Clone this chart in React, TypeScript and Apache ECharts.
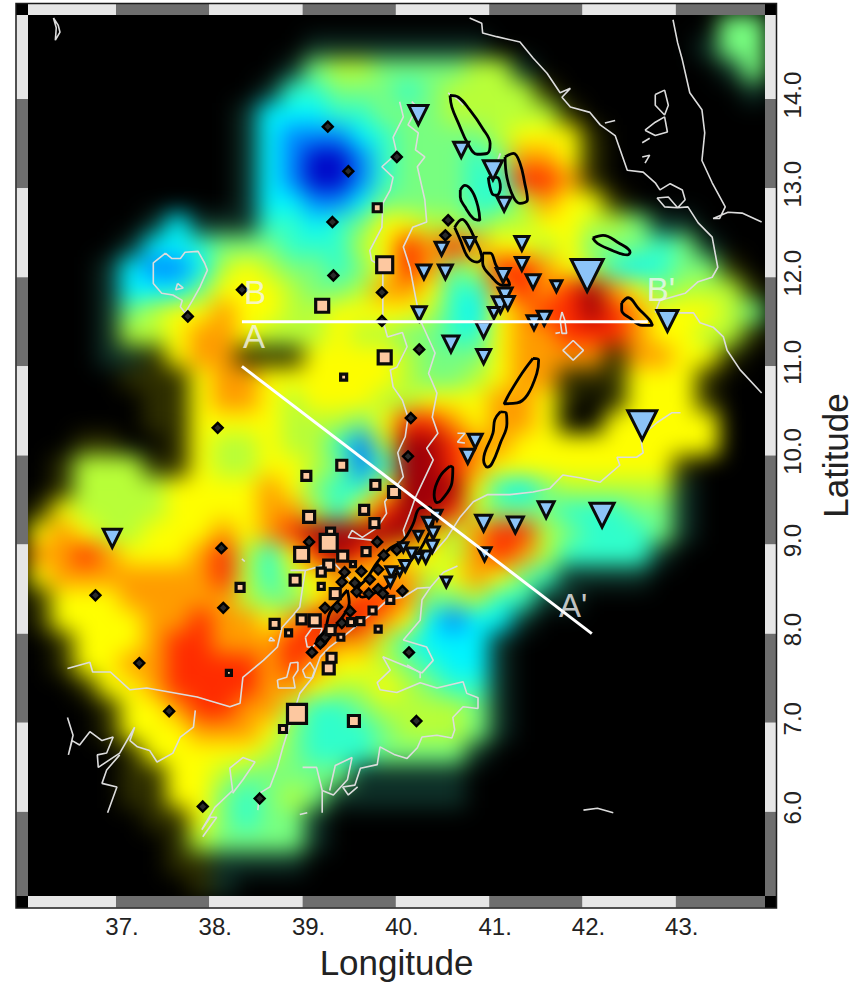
import React, { useEffect, useRef } from "react";
import * as echarts from "echarts";

// ---- axes
const lonRange = [36.057, 43.956];
const latRange = [5.056, 14.943];
const lonTicks = [37, 38, 39, 40, 41, 42, 43];
const latTicks = [6, 7, 8, 9, 10, 11, 12, 13, 14];

// ---- anomaly field, read cell by cell (0 no data, -1 dim olive, -2 dim teal, 1 low ... 10 high)
const fieldRows: number[][] = [
  [0,0,0,0,0,0,0,0,0,0,0,0,0,0,0,0,0,0,0,0,0,0,0,0,0,0,0,0,0,0,5,5],
  [0,0,0,0,0,0,0,0,0,0,0,0,-2,-2,-2,-2,-2,-2,-2,-2,0,0,0,0,0,0,0,0,0,-2,5,5],
  [0,0,0,0,0,0,0,0,0,0,0,-2,5,6,6,5,5,5,5,6,6,-2,0,0,0,0,0,0,0,0,-2,5],
  [0,0,0,0,0,0,0,0,0,0,-2,4,4,5,5,5,4,5,6,6,6,6,-1,0,0,0,0,0,0,0,0,-2],
  [0,0,0,0,0,0,0,0,0,-2,3,3,3,4,4,5,5,5,6,6,6,6,6,-1],
  [0,0,0,0,0,0,0,0,0,-2,3,2,2,2,3,4,5,5,5,5,6,7,7,7,-1],
  [0,0,0,0,0,0,0,0,0,-2,3,2,1,1,2,4,5,5,5,4,5,8,8,7,-1],
  [0,0,0,0,0,0,0,0,0,-2,3,2,1,1,2,4,5,5,5,4,4,9,9,8,-1],
  [0,0,0,0,0,0,0,0,0,-2,3,3,2,2,3,5,5,5,5,4,4,6,8,7,7,-1],
  [0,0,0,0,0,-2,3,-2,-2,-2,4,4,3,4,5,7,7,6,6,5,6,6,7,7,6,6,5,-2,-2],
  [0,0,0,0,-2,3,3,4,5,5,5,4,4,4,6,7,9,8,9,8,7,7,6,7,5,5,5,4,5,-2],
  [0,0,0,-2,3,2,2,3,6,7,6,5,5,4,5,7,9,8,5,6,9,9,8,7,6,4,3,4,5,5,-1],
  [0,0,0,-2,3,3,3,5,7,7,7,6,5,5,6,8,8,7,4,4,8,9,8,9,10,8,7,5,6,6,6,-1],
  [0,0,0,-2,5,6,7,7,8,7,7,6,6,7,7,7,7,6,4,3,7,8,9,9,10,9,8,7,7,7,6,5],
  [0,0,0,-2,6,6,7,8,8,7,6,6,6,7,6,6,5,5,4,4,7,8,8,9,9,9,8,7,7,6,6,-1],
  [0,0,0,-2,-2,-1,7,8,8,-1,-1,-1,7,7,7,7,6,5,5,5,7,8,8,8,8,-1,8,8,7,7,-1],
  [0,0,0,0,-1,-1,-1,7,8,8,7,7,7,7,7,7,6,5,5,6,7,8,8,-1,-1,-1,7,7,7,-1],
  [0,0,0,0,0,-1,-1,7,8,8,7,6,7,7,7,6,6,7,7,7,8,8,7,-1,0,-1,7,7,7,-1],
  [0,0,0,0,0,-1,-1,7,7,7,7,6,6,6,5,7,9,9,8,7,8,8,7,0,0,7,7,7,7,7],
  [0,0,-1,-1,0,0,-1,7,6,6,7,6,6,4,2,6,10,10,9,8,8,7,7,7,7,7,7,7,7,7],
  [0,-1,6,6,6,-1,-1,7,6,6,7,7,6,5,2,4,10,10,9,8,7,7,7,7,7,7,7,7,-1],
  [0,-1,6,6,6,6,7,7,7,7,8,7,5,4,4,7,10,10,10,7,4,3,5,6,6,6,6,6,-2],
  [-1,7,6,6,6,6,7,7,7,7,8,8,6,4,7,9,10,10,9,6,5,5,5,4,4,4,5,5,-2],
  [7,8,7,6,6,7,7,7,8,7,8,9,10,10,10,10,10,8,6,8,9,9,6,5,4,4,4,5,-2],
  [8,8,9,8,7,7,7,8,9,6,4,7,9,10,9,8,7,7,6,8,9,8,6,4,4,4,4,-2],
  [7,8,8,8,8,8,8,8,9,6,4,6,7,8,7,8,8,6,7,8,7,5,4,-2,-2,-2,-2],
  [-1,7,7,7,8,8,8,8,8,6,5,5,7,8,9,9,8,5,5,6,4,4,-2,-2],
  [-1,7,7,7,7,8,8,9,8,8,7,8,9,10,9,8,7,3,2,3,3,-2],
  [0,-1,7,7,7,8,9,9,8,8,8,9,9,8,8,6,4,3,3,3,-2],
  [0,-1,7,7,8,8,9,9,9,9,8,9,8,7,7,6,5,4,3,3,-2],
  [0,0,-1,7,7,8,9,9,9,9,8,8,7,6,6,7,6,5,4,4,-2],
  [0,0,0,-1,7,7,8,9,9,8,8,6,4,4,5,6,6,6,6,5,-2],
  [0,0,0,-1,7,7,7,8,8,8,7,5,4,4,4,5,6,6,6,5,-2],
  [0,0,0,0,-1,7,7,7,7,7,6,5,4,4,4,5,5,5,5,-2],
  [0,0,0,0,-1,-1,7,7,6,5,5,5,5,5,-2,-2,-2,-2,-2],
  [0,0,0,0,-1,-1,7,7,5,4,5,6,5,-2,-2,-2,-2,-2,-2],
  [0,0,0,0,0,-1,-1,7,5,4,5,5,-2],
  [0,0,0,0,0,0,-1,6,5,5,5,5,-2],
  [0,0,0,0,0,0,-1,-1,-2,-2,-2,-2],
  [0,0,0,0,0,0,0,-1,-2],
];
const fieldLevels = [-2, -1, 0, 1, 2, 3, 4, 5, 6, 7, 8, 9, 10];
const fieldColors = ["#0e3028", "#2e2e00", "#000000", "#0008c8", "#0088ff", "#00f4ff", "#30ffcc", "#78ff80", "#b8ff38", "#ffff00", "#ff9c00", "#ff2c00", "#a00008"];

// ---- markers: [lon, lat, size]
const stations: number[][] = [
  [40.24,13.82,20],[40.70,13.43,16],[41.04,13.20,20],[41.16,12.82,15],[40.49,12.32,14],[41.35,12.38,15],[40.30,12.06,15],[40.53,12.06,15],
  [41.35,12.15,14],[40.79,12.38,13],[41.15,12.02,15],[41.47,11.95,15],[41.72,11.90,12],[42.05,12.02,33],[41.17,11.80,15],[41.12,11.69,17],
  [41.20,11.71,14],[41.05,11.60,12],[40.25,11.59,15],[40.94,11.41,17],[41.48,11.49,15],[41.59,11.54,15],[40.59,11.25,17],[40.94,11.11,15],
  [40.85,10.16,15],[40.77,9.99,15],[40.94,9.24,17],[41.28,9.22,17],[41.61,9.39,17],[42.21,9.33,25],[40.95,8.89,14],[40.54,8.58,11],
  [42.64,10.34,30],[42.91,11.51,22],[36.96,9.07,19],[40.44,9.33,11],[40.35,9.24,13],[40.40,9.13,13],[40.39,8.98,13],[40.32,8.86,13],
  [40.24,8.85,10],[40.17,8.90,12],[40.08,8.97,10],[40.24,9.10,10],[40.10,8.76,12],[39.95,8.69,12],[39.94,8.58,11],[40.04,8.69,9],
];
const events: number[][] = [
  [39.80,12.78,10],[39.88,12.14,18],[39.21,11.68,15],[39.88,11.10,15],[39.44,10.88,8],[39.42,9.89,12],[39.04,9.77,11],[39.78,9.67,11],
  [39.98,9.59,13],[39.07,9.31,13],[39.66,9.39,11],[39.77,9.24,11],[39.30,9.14,10],[39.28,9.02,19],[38.99,8.89,16],[39.43,8.87,12],
  [39.68,8.92,10],[39.28,8.77,12],[39.20,8.69,10],[39.54,8.78,7],[38.92,8.60,12],[39.20,8.53,8],[38.33,8.52,10],[39.35,8.45,12],
  [39.94,8.38,9],[38.70,8.11,11],[38.99,8.16,11],[39.13,8.15,13],[38.85,8.01,8],[39.30,8.04,11],[39.52,8.13,9],[39.62,8.14,9],
  [39.41,7.96,8],[39.75,8.26,9],[39.81,8.05,8],[39.31,7.73,11],[39.28,7.61,13],[38.21,7.56,7],[38.94,7.10,21],[38.79,6.93,9],[39.55,7.02,13],
];
const smallEvents: number[][] = [
  [39.27,13.69],[40.01,13.35],[39.49,13.19],[39.32,12.62],[39.33,12.02],[40.56,12.64],[40.53,12.47],[39.85,11.83],[39.85,11.51],[40.25,11.19],
  [40.16,10.42],[40.13,9.99],[38.35,11.86],[37.77,11.56],[38.09,10.31],[38.13,8.96],[36.78,8.43],[38.15,8.29],[37.25,7.67],[37.57,7.13],
  [37.93,6.06],[38.54,6.15],[40.22,7.02],[40.14,7.79],[39.10,7.79],[39.07,9.03],[39.45,8.69],[39.63,8.70],[39.80,9.03],[39.87,8.88],
  [39.42,8.58],[39.56,8.57],[39.58,8.47],[39.72,8.61],[39.81,8.72],[39.71,8.45],[39.81,8.50],[39.86,8.45],[40.07,8.48],[39.24,8.29],
  [39.37,8.30],[39.51,8.25],[39.42,8.12],[39.24,7.96],[39.19,7.89],[40.01,8.94],
];

// ---- profiles
const profileA = [[38.35,11.0],[42.1,8.0]];
const profileB = [[38.35,11.5],[42.7,11.5]];
const profileLabels: [number, number, string][] = [[38.49,11.83,"B"],[38.48,11.34,"A"],[41.90,8.32,"A'"],[42.84,11.86,"B'"]];

// ---- magmatic segments (closed outlines)
const segments: number[][][] = [
  [[40.58,14.04],[40.67,14.02],[40.79,13.88],[40.93,13.67],[41.01,13.50],[40.98,13.39],[40.87,13.38],[40.77,13.50],[40.67,13.73],[40.60,13.91]],
  [[41.17,13.35],[41.26,13.39],[41.33,13.28],[41.38,13.06],[41.41,12.87],[41.33,12.83],[41.26,12.90],[41.19,13.12]],
  [[40.99,13.12],[41.08,13.12],[41.12,13.01],[41.08,12.92],[41.03,12.94]],
  [[40.69,12.98],[40.74,13.03],[40.82,12.96],[40.88,12.79],[40.90,12.64],[40.83,12.66],[40.74,12.79],[40.69,12.90]],
  [[40.63,12.56],[40.71,12.65],[40.77,12.59],[40.85,12.42],[40.92,12.22],[40.87,12.17],[40.77,12.23],[40.69,12.42]],
  [[40.93,12.27],[41.01,12.27],[41.08,12.12],[41.20,11.97],[41.22,11.91],[41.14,11.91],[41.03,12.00],[40.93,12.16]],
  [[42.11,12.44],[42.22,12.47],[42.38,12.39],[42.51,12.28],[42.48,12.25],[42.32,12.30],[42.16,12.38]],
  [[42.42,11.71],[42.49,11.77],[42.60,11.65],[42.72,11.52],[42.75,11.46],[42.64,11.46],[42.51,11.54],[42.42,11.63]],
  [[41.47,11.09],[41.53,11.07],[41.51,10.92],[41.41,10.68],[41.30,10.59],[41.16,10.58],[41.22,10.70],[41.35,10.92]],
  [[41.12,10.49],[41.18,10.48],[41.19,10.36],[41.12,10.14],[41.03,9.91],[40.98,9.87],[40.94,9.95],[41.04,10.25],[41.06,10.40]],
  [[40.58,9.88],[40.61,9.86],[40.60,9.69],[40.49,9.50],[40.44,9.47],[40.41,9.56],[40.47,9.76]],
  [[40.37,9.42],[40.26,9.41],[40.18,9.22],[40.08,9.05],[39.94,8.96],[39.80,8.80],[39.69,8.62],[39.59,8.49],[39.64,8.41],[39.75,8.45],[39.90,8.52],[40.01,8.68],[40.12,8.79],[40.23,8.90],[40.33,9.08],[40.40,9.27]],
  [[39.48,8.49],[39.50,8.34],[39.46,8.24],[39.37,8.10],[39.29,7.96],[39.19,7.85],[39.15,7.91],[39.24,8.04],[39.29,8.23],[39.40,8.39]],
];

// ---- coast, rivers and contours
const coastRedSea = [[40.79,14.91],[40.92,14.85],[40.93,14.74],[41.08,14.70],[41.33,14.64],[41.47,14.46],[41.62,14.29],[41.76,14.07],[41.87,14.12],[41.78,14.02],[41.87,13.91],[42.08,13.85],[42.19,13.71],[42.35,13.59],[42.48,13.20],[42.65,13.18],[42.78,13.06],[42.83,12.98],[42.94,13.05],[43.07,12.98],[43.10,12.87],[43.02,12.78],[42.88,12.79],[42.80,12.89],[42.92,12.90],[43.02,12.78],[43.13,12.79],[43.24,12.61],[43.39,12.45],[43.45,12.11],[43.39,12.00],[43.24,11.95],[43.10,11.82],[42.83,11.74],[42.78,11.61],[43.05,11.60],[43.19,11.60],[43.26,11.49],[43.40,11.44],[43.51,11.33],[43.55,11.18],[43.69,10.96],[43.92,10.70]];
const coastArabia = [[42.97,14.89],[43.02,14.63],[43.07,14.44],[43.15,14.07],[43.28,13.88],[43.31,13.62],[43.28,13.31],[43.39,13.06],[43.53,12.79],[43.47,12.66],[43.40,12.66],[43.56,12.73],[43.71,12.72],[43.92,12.62]];
const islandA = [[42.78,14.05],[42.88,14.10],[42.92,13.93],[42.88,13.82],[42.78,13.93],[42.78,14.05]];
const islandB = [[42.67,13.65],[42.78,13.74],[42.88,13.80],[42.91,13.63],[42.78,13.59],[42.67,13.65]];
const islandC = [[42.64,13.51],[42.72,13.56]];
const islandD = [[42.64,13.35],[42.72,13.37],[42.67,13.28]];
const islandE = [[42.24,13.73],[42.35,13.76]];
const islandF = [[36.33,14.91],[36.38,14.83],[36.40,14.75],[36.35,14.66],[36.36,14.80],[36.33,14.91]];
const lakeTana = [[37.53,12.27],[37.60,12.21],[37.69,12.21],[37.74,12.28],[37.88,12.29],[37.95,12.16],[37.98,12.08],[37.90,11.89],[37.82,11.74],[37.74,11.60],[37.69,11.67],[37.71,11.74],[37.61,11.80],[37.49,11.82],[37.40,11.93],[37.40,12.16],[37.53,12.27]];
const lakeTanaInner = [[37.66,11.93],[37.72,11.88],[37.64,11.86],[37.66,11.93]];
const scarpWest = [[40.04,13.97],[40.08,13.80],[39.97,13.57],[40.01,13.39],[39.85,13.24],[39.97,13.12],[39.94,12.98],[39.86,12.83],[39.85,12.56],[39.72,12.30],[39.74,12.19],[39.86,12.11],[39.86,11.89],[39.80,11.83],[39.86,11.78],[39.86,11.52],[39.91,11.33],[40.07,11.38],[40.12,11.22],[40.01,10.99],[39.94,10.96],[39.97,10.77],[40.07,10.62],[40.13,10.43],[40.10,10.21],[40.02,10.03],[40.08,9.76],[39.88,9.48],[39.90,9.35],[39.80,9.19],[39.64,9.08],[39.53,9.16],[39.49,9.08],[39.74,9.05]];
const scarpMid = [[40.17,13.97],[40.23,13.91],[40.13,13.71],[40.24,13.62],[40.21,13.43],[40.31,13.35],[40.23,13.24],[40.31,12.87],[40.33,12.62],[40.18,12.56],[40.08,12.34],[40.15,12.11],[40.21,11.78],[40.26,11.52],[40.42,11.15],[40.35,10.92],[40.44,10.70],[40.39,10.43],[40.45,10.25],[40.33,10.08],[40.40,9.95],[40.21,9.53],[40.15,9.35],[40.08,9.16],[40.10,9.07]];
const scarpEast = [[43.05,10.48],[42.96,10.48],[42.80,10.37],[42.62,10.21],[42.65,10.03],[42.58,9.98],[42.37,9.98],[42.40,9.89],[42.19,9.70],[41.97,9.75],[41.79,9.78],[41.65,9.63],[41.47,9.59],[41.22,9.56],[40.98,9.56],[40.83,9.48],[40.69,9.31],[40.55,9.08],[40.40,8.90]];
const riftSouth = [[40.66,8.76],[40.51,8.69],[40.37,8.52],[40.23,8.51],[40.08,8.41],[39.91,8.38],[39.80,8.27],[39.65,8.15],[39.43,7.96],[39.29,7.85],[39.19,7.74],[39.11,7.51],[38.97,7.33],[38.79,6.73],[38.73,6.50],[38.65,6.28],[38.54,6.21],[38.52,6.02]];
const riftBranch = [[40.37,8.52],[40.28,8.38],[40.26,8.15],[40.08,7.93],[40.33,7.85],[40.40,7.70],[40.28,7.56],[40.12,7.63],[39.86,7.74],[39.94,7.59],[39.80,7.45],[39.83,7.37],[40.01,7.34],[40.26,7.45],[40.44,7.39],[40.72,7.46],[40.76,7.33],[40.88,7.28],[40.88,7.16],[40.72,7.18],[40.61,7.06],[40.63,6.92],[40.60,6.83],[40.44,6.86],[40.28,6.84],[40.23,6.72],[40.12,6.60],[39.99,6.64],[39.83,6.73],[39.80,6.53],[39.62,6.49],[39.56,6.30],[39.43,6.28],[39.49,6.19],[39.59,6.28]];
const riftBar = [[40.12,7.65],[40.26,7.56],[40.26,7.50]];
const riverWest = [[36.48,7.61],[36.72,7.68],[36.75,7.57],[36.94,7.57],[37.15,7.37],[37.33,7.39],[37.87,7.29],[38.22,7.18],[38.33,7.22],[38.36,7.51],[38.58,7.70],[38.73,7.85],[38.78,8.07],[38.90,8.21],[38.97,8.30],[39.00,8.52],[39.03,8.71],[38.87,8.71],[39.03,8.71],[39.33,8.80],[39.51,8.60]];
const loopA = [[39.03,7.96],[39.10,8.06],[39.21,8.06],[39.17,7.93],[39.11,7.85],[39.05,7.85],[39.03,7.96]];
const loopB = [[38.73,7.48],[38.83,7.51],[38.87,7.67],[38.95,7.68],[38.95,7.59],[38.90,7.51],[38.92,7.39],[38.74,7.39],[38.73,7.48]];
const loopC = [[39.00,7.59],[39.08,7.68],[39.13,7.59],[39.10,7.50],[39.03,7.51],[39.00,7.59]];
const riverSW = [[36.48,7.06],[36.54,6.86],[36.49,6.64],[36.53,6.80],[36.61,6.75],[36.72,6.90],[36.85,6.80],[36.97,6.84],[36.90,6.66],[36.80,6.64],[36.81,6.50],[37.04,6.66],[37.20,6.95],[37.15,6.80],[37.23,6.73],[37.36,6.69],[37.44,6.56],[37.61,6.66],[37.69,6.84],[37.83,6.95],[37.85,7.14]];
const riverSWBranch = [[37.04,6.64],[36.90,6.47],[36.85,6.32],[37.01,6.28],[36.91,5.99]];
const southA = [[37.93,5.72],[38.08,5.94],[38.01,5.94],[37.92,5.80],[38.06,6.05],[38.25,6.24],[38.22,6.49],[38.36,6.61],[38.49,6.56],[38.36,6.36],[38.25,6.21]];
const southB = [[39.00,6.50],[39.15,6.50],[39.21,6.24],[39.21,5.99]];
const southC = [[39.21,6.24],[39.33,6.19],[39.48,6.36],[39.53,6.61],[39.35,6.52],[39.29,6.24]];
const southD = [[38.97,5.97],[39.05,5.99]];
const southE = [[42.01,6.02],[42.16,6.04],[42.33,5.99]];
const ringEast = [[41.90,11.29],[42.01,11.18],[41.90,11.07],[41.79,11.18],[41.90,11.29]];
const strandEast = [[41.78,11.61],[41.81,11.52],[41.83,11.37],[41.78,11.37],[41.76,11.52],[41.78,11.61]];
const strandEastB = [[41.71,11.37],[41.76,11.38]];
const spurNorth = [[40.56,14.07],[40.67,13.99],[40.72,13.93]];
const spurMid = [[41.12,13.39],[41.08,13.28]];
const spurLoop = [[40.66,10.25],[40.74,10.25],[40.66,10.15],[40.74,10.14]];
const spurWest = [[38.35,8.84],[38.38,8.81]];
const spurRing = [[38.66,7.96],[38.70,7.92],[38.64,7.92],[38.66,7.96]];
const contourLines = [coastRedSea, coastArabia, islandA, islandB, islandC, islandD, islandE, islandF, lakeTana, lakeTanaInner, scarpWest, scarpMid, scarpEast, riftSouth, riftBranch, riftBar, riverWest, loopA, loopB, loopC, riverSW, riverSWBranch, southA, southB, southC, southD, southE, ringEast, strandEast, strandEastB, spurNorth, spurMid, spurLoop, spurWest, spurRing];

const FONT = "'Liberation Sans', Arial, sans-serif";
const TEXT = "#222222";
const PLOT = { left: 28, top: 15, width: 737, height: 881 };
const BAR = 11.5;

function frameSegments() {
  const out: number[][] = [];
  const xs = [lonRange[0], ...lonTicks, lonRange[1]];
  const ys = [latRange[1], ...[...latTicks].reverse(), latRange[0]];
  for (let i = 0; i + 1 < xs.length; i++) {
    out.push([xs[i], latRange[1], xs[i + 1], i % 2, 0]);
    out.push([xs[i], latRange[0], xs[i + 1], i % 2, 1]);
  }
  for (let i = 0; i + 1 < ys.length; i++) {
    out.push([lonRange[0], ys[i], ys[i + 1], i % 2, 2]);
    out.push([lonRange[1], ys[i], ys[i + 1], i % 2, 3]);
  }
  return out;
}

export default function App() {
  const heatRef = useRef<HTMLDivElement>(null);
  const mainRef = useRef<HTMLDivElement>(null);

  useEffect(() => {
    const heat = echarts.init(heatRef.current!, undefined, { renderer: "svg" });
    const cols = Array.from({ length: 32 }, (_, i) => String(i));
    const rows = fieldRows.map((_, i) => String(i));
    const cells: number[][] = [];
    fieldRows.forEach((row, r) => row.forEach((v, c) => { if (v !== 0) cells.push([c, r, v]); }));
    heat.setOption({
      animation: false,
      backgroundColor: "transparent",
      grid: { left: 0, right: 0, top: 0, bottom: 0, outerBoundsMode: "none" },
      xAxis: { type: "category", data: cols, show: false },
      yAxis: { type: "category", data: rows, inverse: true, show: false },
      visualMap: {
        show: false, type: "piecewise", dimension: 2,
        pieces: fieldLevels.map((v, i) => ({ value: v, color: fieldColors[i] })),
      },
      series: [{ type: "heatmap", data: cells, itemStyle: { borderWidth: 0 }, silent: true }],
    });

    const main = echarts.init(mainRef.current!, undefined, { renderer: "svg" });
    const lineBase = { type: "line", showSymbol: false, symbol: "none", silent: true, clip: true };
    main.setOption({
      animation: false,
      backgroundColor: "transparent",
      textStyle: { fontFamily: FONT },
      grid: { ...PLOT, containLabel: false, outerBoundsMode: "none" },
      xAxis: {
        type: "value", min: lonRange[0], max: lonRange[1], splitLine: { show: false },
        axisLine: { show: false }, axisTick: { show: false },
        axisLabel: {
          customValues: lonTicks, formatter: (v: number) => `${v}.`, color: TEXT, fontSize: 24,
          fontFamily: FONT, margin: 18, padding: [0, 0, 0, 12],
        },
        name: "Longitude", nameLocation: "middle", nameGap: 49,
        nameTextStyle: { fontSize: 35, color: TEXT, fontFamily: FONT },
      },
      yAxis: {
        type: "value", position: "right", min: latRange[0], max: latRange[1], splitLine: { show: false },
        axisLine: { show: false }, axisTick: { show: false },
        axisLabel: {
          customValues: latTicks, formatter: (v: number) => v.toFixed(1), color: TEXT, fontSize: 24,
          fontFamily: FONT, rotate: 90, margin: 15, padding: [0, 0, 0, 8],
        },
        name: "Latitude", nameLocation: "middle", nameRotate: 90, nameGap: 53,
        nameTextStyle: { fontSize: 35, color: TEXT, fontFamily: FONT },
      },
      graphic: [
        { type: "rect", shape: { x: 16, y: 3.5, width: 12, height: 11.5 }, style: { fill: "#000" }, silent: true },
        { type: "rect", shape: { x: 765, y: 3.5, width: 11.5, height: 11.5 }, style: { fill: "#000" }, silent: true },
        { type: "rect", shape: { x: 16, y: 896, width: 12, height: 12 }, style: { fill: "#000" }, silent: true },
        { type: "rect", shape: { x: 765, y: 896, width: 11.5, height: 12 }, style: { fill: "#000" }, silent: true },
        { type: "rect", shape: { x: 16, y: 3.5, width: 760.5, height: 904.5 }, style: { fill: "none", stroke: "#1a1a1a", lineWidth: 1.5 }, silent: true, z: 100 },
      ],
      series: [
        ...contourLines.map((pts) => ({
          ...lineBase, data: pts, z: 3,
          lineStyle: { color: "#dcdcdc", width: 1.6 },
        })),
        ...segments.map((pts) => ({
          ...lineBase, data: [...pts, pts[0]], smooth: 0.4, z: 4,
          lineStyle: { color: "#000", width: 2.8 },
        })),
        {
          type: "scatter", data: smallEvents, symbol: "diamond", symbolSize: 10, z: 5, silent: true,
          itemStyle: { color: "#2a2a2a", borderColor: "#000", borderWidth: 2.4, opacity: 1 },
        },
        {
          type: "scatter", data: events, symbol: "rect", symbolSize: (v: number[]) => v[2] - 2, z: 6, silent: true,
          itemStyle: { color: "#fdc8a0", borderColor: "#0a0a0a", borderWidth: 3.2, opacity: 1 },
        },
        {
          type: "scatter", data: stations, symbol: "triangle", symbolRotate: 180, symbolSize: (v: number[]) => v[2] - 1, z: 6, silent: true,
          itemStyle: { color: "#8cc4f8", borderColor: "#0a0a0a", borderWidth: 3, opacity: 1 },
        },
        { ...lineBase, data: profileA, z: 7, lineStyle: { color: "#fff", width: 3 } },
        { ...lineBase, data: profileB, z: 7, lineStyle: { color: "#fff", width: 3 } },
        {
          type: "scatter", data: profileLabels, symbolSize: 1, z: 8, silent: true,
          itemStyle: { color: "rgba(0,0,0,0)" },
          label: {
            show: true, position: "inside", formatter: (p: any) => p.value[2],
            color: "#f4f4f4", fontSize: 33, fontFamily: FONT,
          },
        },
        {
          type: "custom", z: 9, silent: true, clip: false, data: frameSegments(),
          renderItem: (_: any, api: any) => {
            const side = api.value(4);
            const a = api.coord([api.value(0), api.value(1)]);
            const horizontal = side < 2;
            const b = horizontal ? api.coord([api.value(2), api.value(1)]) : api.coord([api.value(0), api.value(2)]);
            let shape;
            if (horizontal) {
              shape = { x: a[0], y: side === 0 ? a[1] - BAR : a[1], width: b[0] - a[0], height: BAR };
            } else {
              shape = { x: side === 2 ? a[0] - BAR : a[0], y: a[1], width: BAR, height: b[1] - a[1] };
            }
            return { type: "rect", shape, style: { fill: api.value(3) ? "#6e6e6e" : "#e6e6e6" } };
          },
        },
      ],
    });
    return () => { heat.dispose(); main.dispose(); };
  }, []);

  return (
    <div style={{ position: "fixed", left: 0, top: 0, width: 865, height: 984, background: "#fff", overflow: "hidden" }}>
      <div style={{ position: "absolute", left: PLOT.left, top: PLOT.top, width: PLOT.width, height: PLOT.height, background: "#000", overflow: "hidden" }}>
        <div ref={heatRef} style={{ width: PLOT.width, height: PLOT.height, filter: "blur(11px)" }} />
      </div>
      <div ref={mainRef} style={{ position: "absolute", left: 0, top: 0, width: 865, height: 984 }} />
    </div>
  );
}
